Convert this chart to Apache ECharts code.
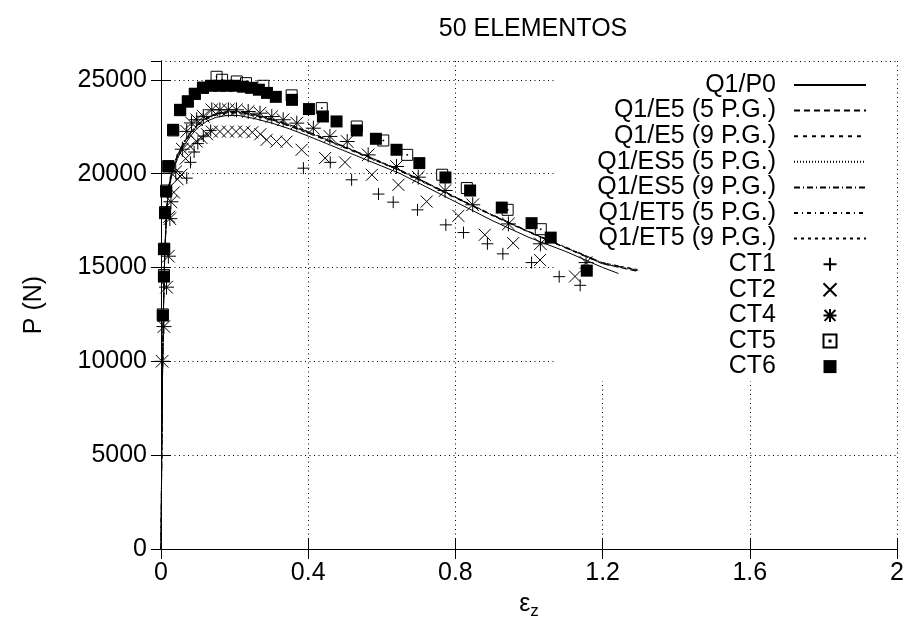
<!DOCTYPE html>
<html>
<head>
<meta charset="utf-8">
<script src="https://cdn.jsdelivr.net/npm/echarts@6/dist/echarts.min.js"></script>
<style>
html,body{margin:0;padding:0;background:#fff;}
#chart{width:907px;height:628px;}
</style>
</head>
<body>
<div id="chart"></div>
<script>
// deformacao (eps_z) e carga P (N)
var strainP0 = [0,0.002,0.004,0.007,0.01,0.015,0.02,0.03,0.045,0.06,0.08,0.1,0.125,0.15,0.18,0.21,0.25,0.3,0.35,0.4,0.45,0.5,0.55,0.6,0.65,0.7,0.8,0.9,1.0,1.1,1.2,1.243];
var loadP0 = [0,5000,9000,13000,15500,17800,19000,20000,20800,21400,22000,22450,22800,23000,23100,23100,22950,22700,22380,22000,21600,21200,20800,20400,20000,19500,18500,17500,16600,15850,15000,14680];

var strainQ1 = [0,0.002,0.004,0.007,0.01,0.015,0.02,0.03,0.045,0.06,0.08,0.1,0.125,0.15,0.18,0.21,0.25,0.3,0.35,0.4,0.45,0.5,0.55,0.6,0.65,0.7,0.8,0.9,1.0,1.1,1.2,1.25,1.297];
var loadE5_5 = [0,5100,9200,13200,15700,18000,19200,20200,21000,21600,22200,22650,23000,23200,23300,23300,23170,22920,22600,22230,21830,21430,21020,20600,20180,19720,18750,17800,16900,16050,15200,14990,14780];
var loadE5_9 = [0,5050,9100,13100,15600,17900,19100,20100,20900,21500,22100,22550,22900,23120,23220,23220,23090,22840,22520,22150,21760,21360,20960,20550,20130,19670,18700,17760,16870,16030,15190,14980,14800];
var loadES5_5 = [0,5100,9200,13200,15700,18000,19200,20200,21000,21600,22200,22650,23000,23200,23300,23300,23160,22900,22580,22210,21810,21410,21000,20580,20160,19700,18730,17790,16890,16060,15220,15010,14820];
var loadES5_9 = [0,5080,9150,13150,15650,17950,19150,20150,20950,21550,22150,22600,22950,23160,23260,23260,23130,22870,22550,22180,21790,21390,20990,20570,20150,19690,18720,17780,16880,16050,15230,15030,14850];
var loadET5_5 = [0,5100,9200,13200,15700,18000,19200,20200,21000,21600,22200,22650,23000,23210,23310,23310,23180,22930,22610,22240,21840,21440,21030,20610,20190,19730,18760,17820,16920,16090,15260,15060,14870];
var loadET5_9 = [0,5080,9150,13150,15650,17950,19150,20150,20950,21550,22150,22600,22950,23170,23270,23270,23140,22880,22560,22190,21800,21400,21000,20590,20170,19710,18740,17800,16900,16070,15250,15050,14880];

// ensaios
var ct1 = [[0.07,19760],[0.08,20600],[0.09,21150],[0.1,21600],[0.115,22000],[0.135,22300],[0.387,20290],[0.46,20600],[0.518,19670],[0.591,18910],[0.631,18480],[0.697,18070],[0.774,17270],[0.822,16860],[0.887,16260],[0.929,15725],[1.007,15260],[1.082,14510],[1.139,14050]];
var ct2 = [[0.022,17700],[0.035,19000],[0.045,19700],[0.056,19950],[0.067,20800],[0.079,21450],[0.097,21710],[0.11,21900],[0.125,22100],[0.138,22240],[0.16,22240],[0.182,22240],[0.204,22240],[0.226,22240],[0.248,22200],[0.27,22100],[0.287,21800],[0.314,21710],[0.341,21700],[0.382,21270],[0.446,20830],[0.5,20600],[0.573,19935],[0.645,19400],[0.722,18510],[0.808,17750],[0.88,16740],[0.957,16300],[1.03,15400],[1.125,14520]];
var ct4 = [[0.003,10000],[0.008,11850],[0.015,13950],[0.02,15600],[0.024,17600],[0.027,18500],[0.04,20100],[0.058,21300],[0.07,22250],[0.083,22700],[0.097,22870],[0.115,23050],[0.138,23400],[0.16,23400],[0.183,23400],[0.205,23400],[0.237,23310],[0.269,23220],[0.301,23040],[0.332,22870],[0.369,22690],[0.414,22420],[0.459,21980],[0.506,21710],[0.563,21000],[0.64,20380],[0.699,19810],[0.772,19100],[0.847,18340],[0.944,17320],[1.031,16260],[1.155,15260]];
var ct5 = [[0.005,12500],[0.008,14600],[0.009,16000],[0.011,17950],[0.014,19100],[0.02,20400],[0.033,22300],[0.052,23380],[0.073,23850],[0.092,24250],[0.114,24580],[0.151,25160],[0.166,25000],[0.206,24910],[0.231,24820],[0.278,24680],[0.355,24170],[0.437,23490],[0.532,22510],[0.604,21765],[0.669,21000],[0.764,19940],[0.831,19230],[0.942,18070],[1.032,17040]];
var ct6 = [[0.005,12440],[0.008,14515],[0.008,15975],[0.011,17895],[0.014,19046],[0.02,20380],[0.033,22335],[0.052,23400],[0.073,23840],[0.092,24250],[0.114,24570],[0.136,24680],[0.158,24680],[0.179,24680],[0.201,24680],[0.223,24630],[0.245,24570],[0.266,24470],[0.288,24300],[0.312,24090],[0.356,23930],[0.402,23440],[0.44,23045],[0.477,22780],[0.532,22300],[0.584,21855],[0.64,21270],[0.702,20560],[0.773,19795],[0.84,19100],[0.926,18190],[1.007,17360],[1.059,16590],[1.157,14830]];

var xTicks = [0, 2, 0.4];
var yTicks = [0, 26000, 5000];

var fnt = 'Liberation Sans';
var dot = [1, 3.5];

function lineSerie(name, xs, ys, dash) {
	var pts = [];
	for (var i = 0; i < xs.length; i++) {
		pts.push([xs[i], ys[i]]);
	}
	return {
		name: name, type: 'line', data: pts,
		symbol: 'none', showSymbol: false,
		lineStyle: {color: '#000', width: 1, type: dash},
		itemStyle: {color: '#000'},
		z: 2
	};
}

function ptSerie(name, pts, sym, size, filled) {
	return {
		name: name, type: 'scatter', data: pts,
		symbol: sym, symbolSize: size, clip: false,
		itemStyle: filled ? {color: '#000', opacity: 1} : {color: 'none', borderColor: '#000', borderWidth: 1, opacity: 1},
		z: 2
	};
}

// legenda: linhas sem simbolo
var lineNames = ['Q1/P0', 'Q1/E5 (5 P.G.)', 'Q1/E5 (9 P.G.)', 'Q1/ES5 (5 P.G.)', 'Q1/ES5 (9 P.G.)', 'Q1/ET5 (5 P.G.)', 'Q1/ET5 (9 P.G.)'];
var ptNames = ['CT1', 'CT2', 'CT4', 'CT5', 'CT6'];
var legendData = [];
for (var i = 0; i < lineNames.length; i++) {
	legendData.push({name: lineNames[i], itemStyle: {opacity: 0}});
}
for (var j = 0; j < ptNames.length; j++) {
	legendData.push({name: ptNames[j]});
}

var chart = echarts.init(document.getElementById('chart'));

var option = {
	animation: false,
	backgroundColor: '#fff',
	title: {
		text: '50 ELEMENTOS',
		left: 528, top: 12, textAlign: 'center',
		textStyle: {fontFamily: fnt, fontSize: 25, fontWeight: 'normal', color: '#000'}
	},
	grid: {left: 161, right: 10, top: 61, bottom: 79},
	legend: {
		orient: 'vertical', right: 11, top: 64, align: 'right',
		itemWidth: 72, itemHeight: 13, itemGap: 0.6,
		padding: [8.5, 29, 2, 43],
		backgroundColor: '#fff', z: 1, selectedMode: false,
		textStyle: {fontFamily: fnt, fontSize: 25, color: '#000', padding: [0, 13, 0, 0]},
		data: legendData
	},
	xAxis: [{
		type: 'value', min: xTicks[0], max: xTicks[1], interval: xTicks[2],
		axisLine: {lineStyle: {color: '#000', width: 1}},
		axisTick: {inside: true, length: 10, lineStyle: {color: '#000'}},
		axisLabel: {color: '#000', fontSize: 25, fontFamily: fnt, margin: 12},
		splitLine: {lineStyle: {color: '#000', width: 1, type: dot}},
		name: '{e|ε}{s|z}', nameLocation: 'middle', nameGap: 40,
		nameTextStyle: {
			color: '#000', fontFamily: fnt,
			rich: {
				e: {fontSize: 25, fontFamily: fnt, color: '#000'},
				s: {fontSize: 17, fontFamily: fnt, color: '#000', padding: [14, 0, 0, 0]}
			}
		}
	}, {
		type: 'value', position: 'top', min: xTicks[0], max: xTicks[1], interval: xTicks[2], z: 5,
		axisLine: {lineStyle: {color: '#000', width: 1}},
		axisTick: {inside: true, length: 10, lineStyle: {color: '#000'}},
		axisLabel: {show: false},
		splitLine: {show: false}
	}],
	yAxis: [{
		type: 'value', min: yTicks[0], max: yTicks[1], interval: yTicks[2],
		axisLine: {lineStyle: {color: '#000', width: 1}},
		axisTick: {inside: true, length: 10, lineStyle: {color: '#000'}},
		axisLabel: {
			color: '#000', fontSize: 25, fontFamily: fnt, margin: 14, showMaxLabel: false,
			formatter: function (v) { return String(v); }
		},
		splitLine: {lineStyle: {color: '#000', width: 1, type: dot}},
		name: 'P (N)', nameLocation: 'middle', nameGap: 114, nameRotate: 90,
		nameTextStyle: {color: '#000', fontSize: 25, fontFamily: fnt}
	}, {
		type: 'value', position: 'right', min: yTicks[0], max: yTicks[1], interval: yTicks[2], z: 5,
		axisLine: {lineStyle: {color: '#000', width: 1}},
		axisTick: {inside: true, length: 10, lineStyle: {color: '#000'}},
		axisLabel: {show: false},
		splitLine: {show: false}
	}],
	series: [
		lineSerie(lineNames[0], strainP0, loadP0, 'solid'),
		lineSerie(lineNames[1], strainQ1, loadE5_5, [6, 4]),
		lineSerie(lineNames[2], strainQ1, loadE5_9, [4, 5]),
		lineSerie(lineNames[3], strainQ1, loadES5_5, [1, 2]),
		lineSerie(lineNames[4], strainQ1, loadES5_9, [6, 3, 1, 3]),
		lineSerie(lineNames[5], strainQ1, loadET5_5, [4, 4, 1, 4]),
		lineSerie(lineNames[6], strainQ1, loadET5_9, [3, 4]),
		ptSerie('CT1', ct1, 'path://M5,0L5,10M0,5L10,5', 12, false),
		ptSerie('CT2', ct2, 'path://M0,0L10,10M10,0L0,10', 12, false),
		ptSerie('CT4', ct4, 'path://M5,0L5,10M0,5L10,5M0.8,0.8L9.2,9.2M9.2,0.8L0.8,9.2', 15, false),
		ptSerie('CT5', ct5, 'path://M0,0L10,0L10,10L0,10ZM4.6,4.6L5.4,4.6L5.4,5.4L4.6,5.4Z', 11, false),
		ptSerie('CT6', ct6, 'path://M0,0L10,0L10,10L0,10Z', 12, true)
	]
};

chart.setOption(option);
</script>
</body>
</html>
